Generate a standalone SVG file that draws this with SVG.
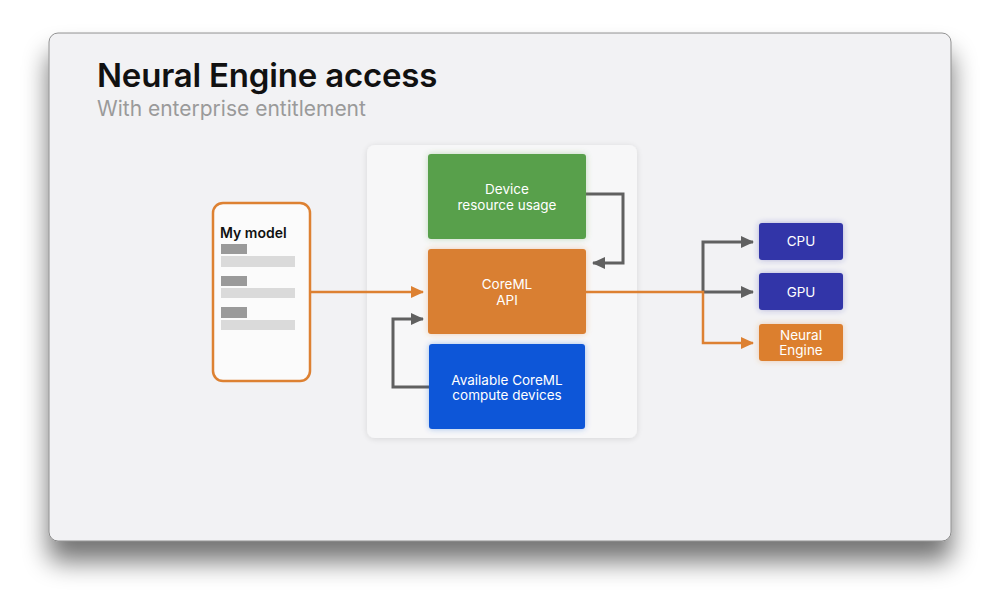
<svg xmlns="http://www.w3.org/2000/svg" width="1000" height="606" viewBox="0 0 1000 606">
  <style>
    .lbl { font-family: Inter, "Liberation Sans", Arial, sans-serif; font-size: 13.5px; fill: #ffffff; text-anchor: middle; }
    .conn-g { fill: none; stroke: #606060; stroke-width: 3; }
    .conn-o { fill: none; stroke: #dd8132; stroke-width: 2.5; }
    .bar-d { fill: #9a9a9a; }
    .bar-l { fill: #dadada; }
  </style>
  <defs>
    <filter id="slideShadow" x="-10%" y="-10%" width="120%" height="135%">
      <feGaussianBlur in="SourceAlpha" stdDeviation="13"/>
      <feOffset dx="0" dy="20" result="b"/>
      <feComponentTransfer><feFuncA type="linear" slope="0.55"/></feComponentTransfer>
      <feMerge><feMergeNode/><feMergeNode in="SourceGraphic"/></feMerge>
    </filter>
    <filter id="panelShadow" x="-10%" y="-10%" width="120%" height="120%">
      <feGaussianBlur in="SourceAlpha" stdDeviation="3"/>
      <feOffset dx="0" dy="1"/>
      <feComponentTransfer><feFuncA type="linear" slope="0.12"/></feComponentTransfer>
      <feMerge><feMergeNode/><feMergeNode in="SourceGraphic"/></feMerge>
    </filter>
    <filter id="glow" x="-20%" y="-30%" width="140%" height="160%">
      <feGaussianBlur in="SourceGraphic" stdDeviation="3"/>
      <feComponentTransfer><feFuncA type="linear" slope="0.35"/></feComponentTransfer>
      <feMerge><feMergeNode/><feMergeNode in="SourceGraphic"/></feMerge>
    </filter>
    <marker id="arrG" markerUnits="userSpaceOnUse" markerWidth="13" markerHeight="13" viewBox="0 0 13 13" refX="12" refY="6.5" orient="auto">
      <path d="M0,0.5 L13,6.5 L0,12.5 Z" fill="#606060"/>
    </marker>
    <marker id="arrO" markerUnits="userSpaceOnUse" markerWidth="13" markerHeight="13" viewBox="0 0 13 13" refX="12" refY="6.5" orient="auto">
      <path d="M0,0.5 L13,6.5 L0,12.5 Z" fill="#dd8132"/>
    </marker>
  </defs>

  <rect x="0" y="0" width="1000" height="606" fill="#ffffff"/>

  <!-- slide -->
  <rect x="49" y="33" width="902" height="508" rx="9" fill="#f2f2f4" stroke="#777" stroke-width="0.8" filter="url(#slideShadow)"/>

  <text x="97" y="87" font-family="Inter, 'Liberation Sans', Arial, sans-serif" font-size="33" font-weight="600" fill="#111111" letter-spacing="-0.2">Neural Engine access</text>
  <text x="97" y="116" font-family="Inter, 'Liberation Sans', Arial, sans-serif" font-size="21" fill="#9a9a9a">With enterprise entitlement</text>

  <!-- panel -->
  <g id="panel">
    <rect x="367" y="145" width="270" height="293" rx="8" fill="#f7f7f8" filter="url(#panelShadow)"/>
  </g>

  <!-- connectors -->
  <g id="connectors">
    <path class="conn-o" d="M310,292 L423,292" marker-end="url(#arrO)"/>
    <path class="conn-g" d="M586,194 L623,194 L623,263 L593,263" marker-end="url(#arrG)"/>
    <path class="conn-g" d="M429,387 L393,387 L393,319 L423,319" marker-end="url(#arrG)"/>
    <path class="conn-g" d="M703,292 L703,242 L753,242" marker-end="url(#arrG)"/>
    <path class="conn-g" d="M703,292 L753,292" marker-end="url(#arrG)"/>
    <path class="conn-o" d="M586,292 L703,292 L703,343 L753,343" marker-end="url(#arrO)"/>
  </g>

  <!-- My model -->
  <g id="my-model">
    <rect x="213" y="203" width="97" height="178" rx="10" fill="#fbfbfb" stroke="#dd8132" stroke-width="2.5"/>
    <text x="220" y="238" font-family="Inter, 'Liberation Sans', Arial, sans-serif" font-size="14" font-weight="600" fill="#111111">My model</text>
    <rect class="bar-d" x="221" y="244" width="26" height="10"/>
    <rect class="bar-l" x="221" y="256" width="74" height="11"/>
    <rect class="bar-d" x="221" y="276" width="26" height="10"/>
    <rect class="bar-l" x="221" y="288" width="74" height="10"/>
    <rect class="bar-d" x="221" y="307" width="26" height="11"/>
    <rect class="bar-l" x="221" y="320" width="74" height="10"/>
  </g>

  <!-- Device resource usage -->
  <g id="device-resource-usage">
    <rect x="428" y="154" width="158" height="85" rx="3" fill="#58a04c" filter="url(#glow)"/>
    <text class="lbl" x="507" y="194">Device</text>
    <text class="lbl" x="507" y="210">resource usage</text>
  </g>

  <!-- CoreML API -->
  <g id="coreml-api">
    <rect x="428" y="249" width="158" height="85" rx="3" fill="#d97f30" filter="url(#glow)"/>
    <text class="lbl" x="507" y="289">CoreML</text>
    <text class="lbl" x="507" y="305">API</text>
  </g>

  <!-- Available CoreML compute devices -->
  <g id="compute-devices">
    <rect x="429" y="344" width="156" height="85" rx="3" fill="#0b56d8" filter="url(#glow)"/>
    <text class="lbl" x="507" y="385">Available CoreML</text>
    <text class="lbl" x="507" y="400">compute devices</text>
  </g>

  <!-- CPU -->
  <g id="cpu">
    <rect x="759" y="223" width="84" height="37" rx="3" fill="#3034a8" filter="url(#glow)"/>
    <text class="lbl" x="801" y="246">CPU</text>
  </g>

  <!-- GPU -->
  <g id="gpu">
    <rect x="759" y="273" width="84" height="37" rx="3" fill="#3034a8" filter="url(#glow)"/>
    <text class="lbl" x="801" y="297">GPU</text>
  </g>

  <!-- Neural Engine -->
  <g id="neural-engine">
    <rect x="759" y="324" width="84" height="37" rx="3" fill="#dc7f2e" filter="url(#glow)"/>
    <text class="lbl" x="801" y="340">Neural</text>
    <text class="lbl" x="801" y="355">Engine</text>
  </g>
</svg>
